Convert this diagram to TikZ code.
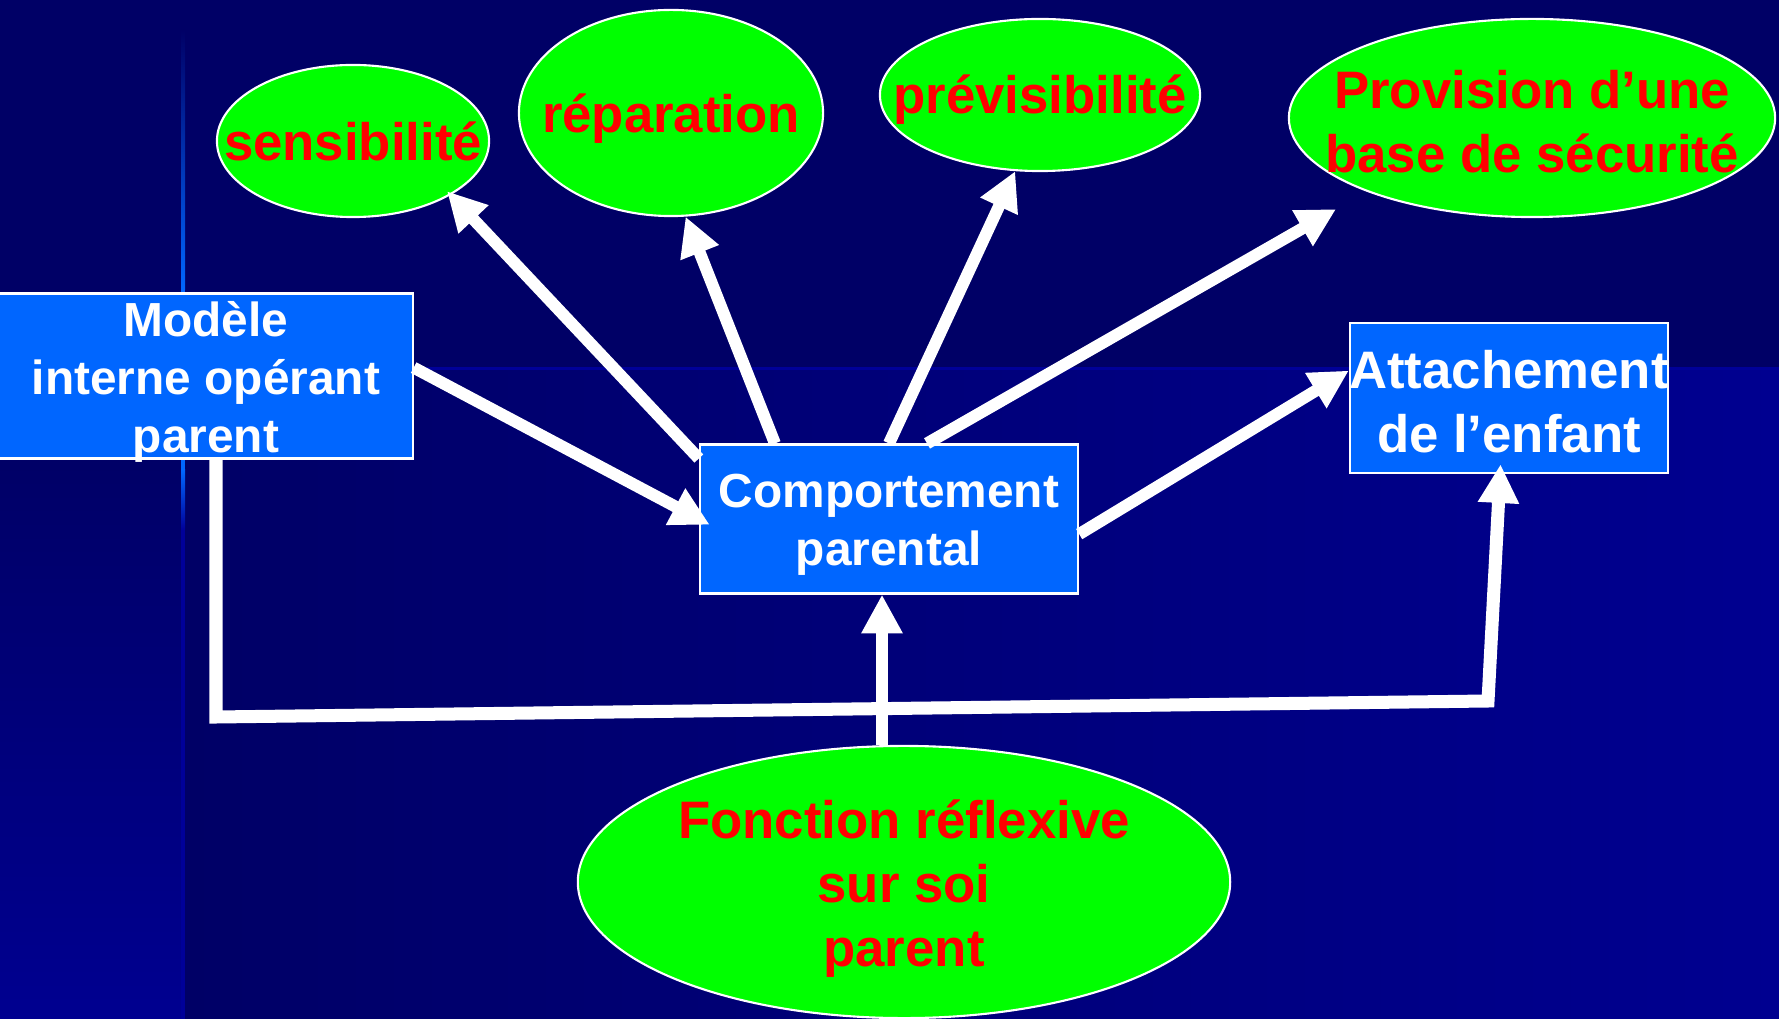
\documentclass[tikz,border=0pt]{standalone}
\usepackage{fontspec}
\setmainfont{Liberation Sans}
\usetikzlibrary{calc,positioning,shapes,arrows.meta}

\definecolor{fond}{RGB}{0,0,102}
\definecolor{fondclair}{RGB}{0,0,144}
\definecolor{filet}{RGB}{0,0,153}
\definecolor{bleuboite}{RGB}{0,102,255}
\definecolor{vertbulle}{RGB}{0,255,0}
\definecolor{rougetexte}{RGB}{255,0,0}

\begin{document}
\begin{tikzpicture}[x=0.01cm, y=-0.01cm,
  bulle/.style={ellipse, draw=white, line width=0.6pt, fill=vertbulle, inner sep=0pt},
  rouge/.style={text=rougetexte, align=center, font=\bfseries\fontsize{15}{18.2}\selectfont},
  boite/.style={rectangle, draw=white, line width=0.6pt, fill=bleuboite, inner sep=0pt},
  blanc/.style={text=white, align=center, font=\bfseries\fontsize{13.6}{16.4}\selectfont},
  fleche/.style={draw=white, line width=3.4pt, -{Triangle[length=11pt,width=11pt]}}]
\useasboundingbox (0,0) rectangle (1779,1019);
% fond de diapo
\fill[fond] (0,0) rectangle (1779,1019);
\shade[left color=fond, right color=fondclair] (185,368) rectangle (1779,1019);
\shade[top color=fond, bottom color=fondclair] (0,450) rectangle (181,1019);
\fill[filet] (185,367) rectangle (1779,370);
\shade[top color=fond, bottom color=bleuboite] (181,30) rectangle (185,290);
\fill[bleuboite] (181,290) rectangle (185,470);
\shade[top color=bleuboite, bottom color=filet] (181,470) rectangle (185,530);
\fill[filet] (181,530) rectangle (185,1019);

% bulles vertes
\node[bulle, minimum width=27.2mm, minimum height=15.2mm, label={[rouge]center:sensibilité}] (sens) at (353,141) {};
\node[bulle, minimum width=30.4mm, minimum height=20.6mm, label={[rouge, yshift=-1.7pt]center:réparation}] (rep) at (671,113) {};
\node[bulle, minimum width=32mm, minimum height=15.2mm, label={[rouge, yshift=-1.3pt]center:prévisibilité}] (prev) at (1040,95) {};
\node[bulle, minimum width=48.6mm, minimum height=19.8mm, label={[rouge, yshift=-1pt]center:Provision d’une\\base de sécurité}] (prov) at (1532,118) {};
\node[bulle, minimum width=65.2mm, minimum height=27.2mm, label={[rouge, yshift=-2pt]center:Fonction réflexive\\sur soi\\parent}] (fonc) at (904,882) {};

% boites bleues
\node[boite, minimum width=41.3mm, minimum height=16.5mm, label={[blanc, yshift=-1.7pt]center:Modèle\\interne opérant\\parent}] (mod) at (206,376) {};
\node[boite, minimum width=37.8mm, minimum height=14.9mm, label={[blanc, yshift=-1.7pt]center:Comportement\\parental}] (comp) at (889,519) {};
\node[boite, minimum width=31.8mm, minimum height=15mm, label={[blanc, yshift=-1pt, font=\bfseries\fontsize{15}{18}\selectfont]center:Attachement\\de l’enfant}] (att) at (1509,398) {};

% fleches
\draw[fleche, shorten >=-3.5pt] ($(mod.north east)!0.45!(mod.south east)$) -- (comp.west);
\draw[fleche, shorten >=-1.5pt] ($(comp.north west)!0.1!(comp.south west)$) -- (sens.-29);
\draw[fleche] ($(comp.north west)!0.2!(comp.north east)$) -- (rep.-82);
\draw[fleche] (comp.north) -- (prev.-108);
\draw[fleche, shorten >=10pt] ($(comp.north west)!0.6!(comp.north east)$) -- (prov.-156);
\draw[fleche] ($(comp.north east)!0.6!(comp.south east)$) -- ($(att.north west)!0.32!(att.south west)$);
\coordinate (piedC) at ($(comp.south)+(-7,0)$);
\draw[fleche] (fonc.north -| piedC) -- (piedC);

\coordinate (coinG) at (216,717);
\coordinate (coinD) at (1488,701);
\draw[fleche, line width=3.7pt, shorten >=-2.8pt] (mod.south -| coinG) -- (coinG) -- (coinD) -- ($(att.south)+(-9,0)$);
\end{tikzpicture}
\end{document}
